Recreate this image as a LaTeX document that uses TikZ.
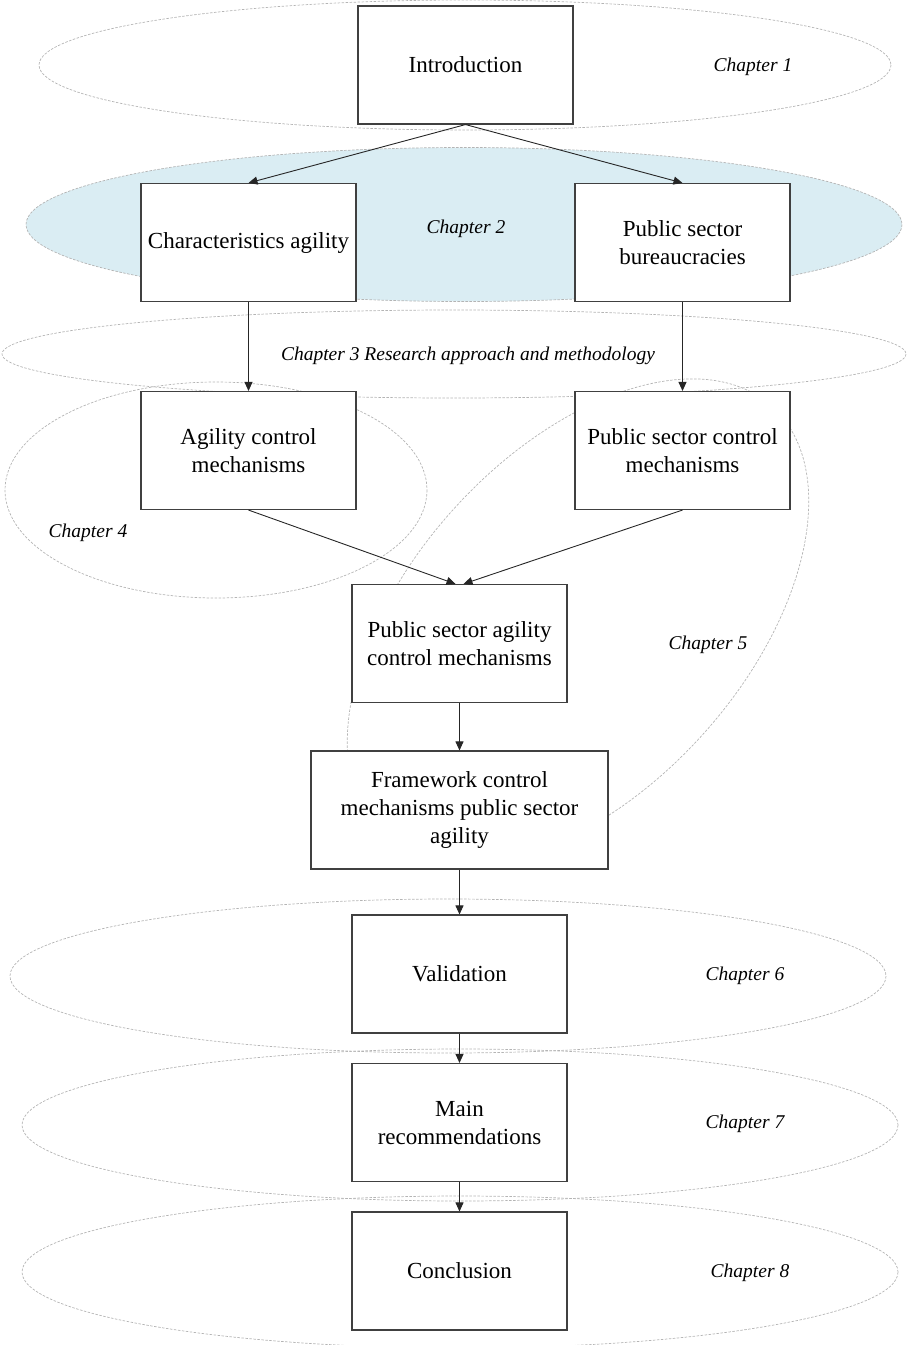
\documentclass[tikz,border=0pt]{standalone}
\usepackage{fontspec}
\setmainfont{Liberation Serif}
\usetikzlibrary{arrows.meta,calc}
\definecolor{chapfill}{HTML}{DAEDF3}
\definecolor{boxline}{HTML}{404040}
\definecolor{ringline}{HTML}{B4B4B4}
\begin{document}
\begin{tikzpicture}[x=1pt,y=-1pt,
  chapring/.style={draw=ringline, line width=0.7pt, dash pattern=on 2.5pt off 1.5pt},
  stagebox/.style={draw=boxline, fill=white, line width=1.1pt, minimum width=215pt,
    minimum height=118pt, inner sep=0pt, align=center,
    font=\fontsize{23}{28}\selectfont},
  chaplabel/.style={font=\fontsize{19.5}{23}\selectfont\itshape, inner sep=0pt, yshift=-2pt},
  flow/.style={draw=black!85, line width=0.9pt, -{Triangle[length=9pt,width=8pt]}}
]
\useasboundingbox (0,0) rectangle (908,1345);

% chapter rings
\draw[chapring] (465,65) ellipse [x radius=426, y radius=65];
\draw[chapring, fill=chapfill] (464,224.5) ellipse [x radius=438, y radius=77];
\draw[chapring] (454,354) ellipse [x radius=452, y radius=44];
\draw[chapring] (216,490) ellipse [x radius=211, y radius=108];
\draw[chapring, rotate around={48:(578,622)}] (578,622) ellipse [x radius=290, y radius=168];
\draw[chapring] (448,976) ellipse [x radius=438, y radius=77];
\draw[chapring] (460,1125) ellipse [x radius=438, y radius=76];
\draw[chapring] (460,1272) ellipse [x radius=438, y radius=76];

% chapter labels
\node[chaplabel] (lab1) at (753,65) {Chapter 1};
\node[chaplabel] (lab2) at (466,227) {Chapter 2};
\node[chaplabel] (lab3) at (468,354) {Chapter 3 Research approach and methodology};
\node[chaplabel] (lab4) at (88,531) {Chapter 4};
\node[chaplabel] (lab5) at (708,643) {Chapter 5};
\node[chaplabel] (lab6) at (745,974) {Chapter 6};
\node[chaplabel] (lab7) at (745,1122) {Chapter 7};
\node[chaplabel] (lab8) at (750,1271) {Chapter 8};

% stages
\node[stagebox] (intro) at (465.5,65) {Introduction};
\node[stagebox] (charag) at (248.5,242.5) {Characteristics agility};
\node[stagebox] (psbur) at (682.5,242.5) {Public sector\\bureaucracies};
\node[stagebox] (agctl) at (248.5,450.5) {Agility control\\mechanisms};
\node[stagebox] (psctl) at (682.5,450.5) {Public sector control\\mechanisms};
\node[stagebox] (psagctl) at (459.5,643.5) {Public sector agility\\control mechanisms};
\node[stagebox, minimum width=297pt] (frame) at (459.5,810) {Framework control\\mechanisms public sector\\agility};
\node[stagebox] (valid) at (459.5,974) {Validation};
\node[stagebox] (recom) at (459.5,1122.5) {Main\\recommendations};
\node[stagebox] (concl) at (459.5,1271) {Conclusion};

% flow
\draw[flow] (intro.south) -- (charag.north);
\draw[flow] (intro.south) -- (psbur.north);
\draw[flow] (charag.south) -- (agctl.north);
\draw[flow] (psbur.south) -- (psctl.north);
\draw[flow] (agctl.south) -- ([xshift=-4pt]psagctl.north);
\draw[flow] (psctl.south) -- ([xshift=4pt]psagctl.north);
\draw[flow] (psagctl.south) -- (frame.north);
\draw[flow] (frame.south) -- (valid.north);
\draw[flow] (valid.south) -- (recom.north);
\draw[flow] (recom.south) -- (concl.north);
\end{tikzpicture}
\end{document}
